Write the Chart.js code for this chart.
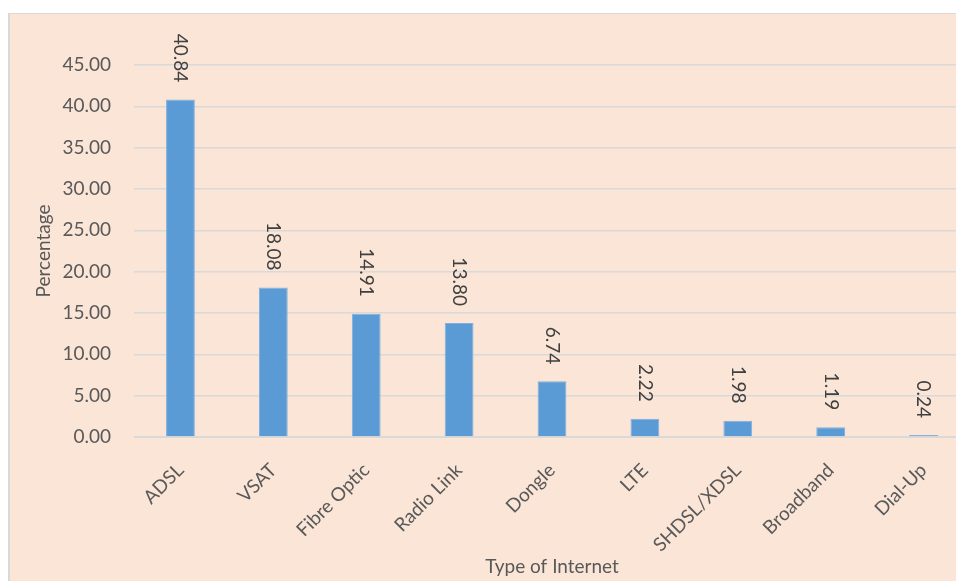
<!DOCTYPE html>
<html>
<head>
<meta charset="utf-8">
<script src="https://cdn.jsdelivr.net/npm/chart.js@4"></script>
<style>
  html, body { margin: 0; padding: 0; background: #fff; overflow: hidden; }
  #wrap { position: absolute; left: 8px; top: 13px; border-top: 1px solid #d9d9d9; border-left: 2px solid #d9d9d9; }
  #chart { display: block; background: #fae5d7; }
</style>
</head>
<body>
<div id="wrap"><canvas id="chart" width="962" height="568"></canvas></div>
<script>
const categories = ['ADSL', 'VSAT', 'Fibre Optic', 'Radio Link', 'Dongle', 'LTE', 'SHDSL/XDSL', 'Broadband', 'Dial-Up'];
const percentages = [40.84, 18.08, 14.91, 13.80, 6.74, 2.22, 1.98, 1.19, 0.24];
const yTicks = [0, 5, 10, 15, 20, 25, 30, 35, 40, 45];

const textColor = '#595959';
const fontFamily = 'Lato, "Liberation Sans", Arial, sans-serif';

// value labels drawn rotated 90deg above each bar
const barLabels = {
  id: 'barLabels',
  afterDatasetsDraw(chart) {
    const ctx = chart.ctx;
    const meta = chart.getDatasetMeta(0);
    ctx.save();
    ctx.fillStyle = '#404040';
    ctx.font = '19px ' + fontFamily;
    meta.data.forEach(function(bar, i) {
      ctx.save();
      ctx.translate(bar.x, bar.y - 17);
      ctx.rotate(Math.PI / 2);
      ctx.textAlign = 'right';
      ctx.textBaseline = 'middle';
      ctx.fillText(percentages[i].toFixed(2), 0, 0);
      ctx.restore();
    });
    ctx.restore();
  }
};

new Chart(document.getElementById('chart'), {
  type: 'bar',
  data: {
    labels: categories,
    datasets: [{
      data: percentages,
      backgroundColor: '#5b9bd5',
      borderColor: '#7fb0de',
      borderWidth: 1,
      barPercentage: 0.31,
      categoryPercentage: 1
    }]
  },
  options: {
    responsive: false,
    animation: false,
    layout: { padding: { top: 51, left: 18, right: 2, bottom: 0 } },
    plugins: {
      legend: { display: false },
      tooltip: { enabled: false }
    },
    scales: {
      x: {
        afterFit: function(scale) { scale.height = 145; },
        grid: { display: false },
        border: { display: true, color: '#d9d9d9' },
        ticks: {
          color: textColor,
          font: { family: fontFamily, size: 19 },
          minRotation: 45,
          maxRotation: 45,
          padding: 14
        },
        title: {
          display: true,
          text: 'Type of Internet',
          color: textColor,
          font: { family: fontFamily, size: 19 },
          padding: { top: 2, bottom: 4 }
        }
      },
      y: {
        min: 0,
        max: 45,
        afterBuildTicks: function(scale) {
          scale.ticks = yTicks.map(function(v) { return { value: v }; });
        },
        afterFit: function(scale) { scale.width = 106; },
        grid: { color: '#d9d9d9', lineWidth: 1.5, drawTicks: false },
        border: { display: false },
        ticks: {
          color: textColor,
          font: { family: fontFamily, size: 19 },
          padding: 23,
          callback: function(v) { return Number(v).toFixed(2); }
        },
        title: {
          display: true,
          text: 'Percentage',
          color: textColor,
          font: { family: fontFamily, size: 19 },
          padding: { top: 4, bottom: 4 }
        }
      }
    }
  },
  plugins: [barLabels]
});
</script>
</body>
</html>
